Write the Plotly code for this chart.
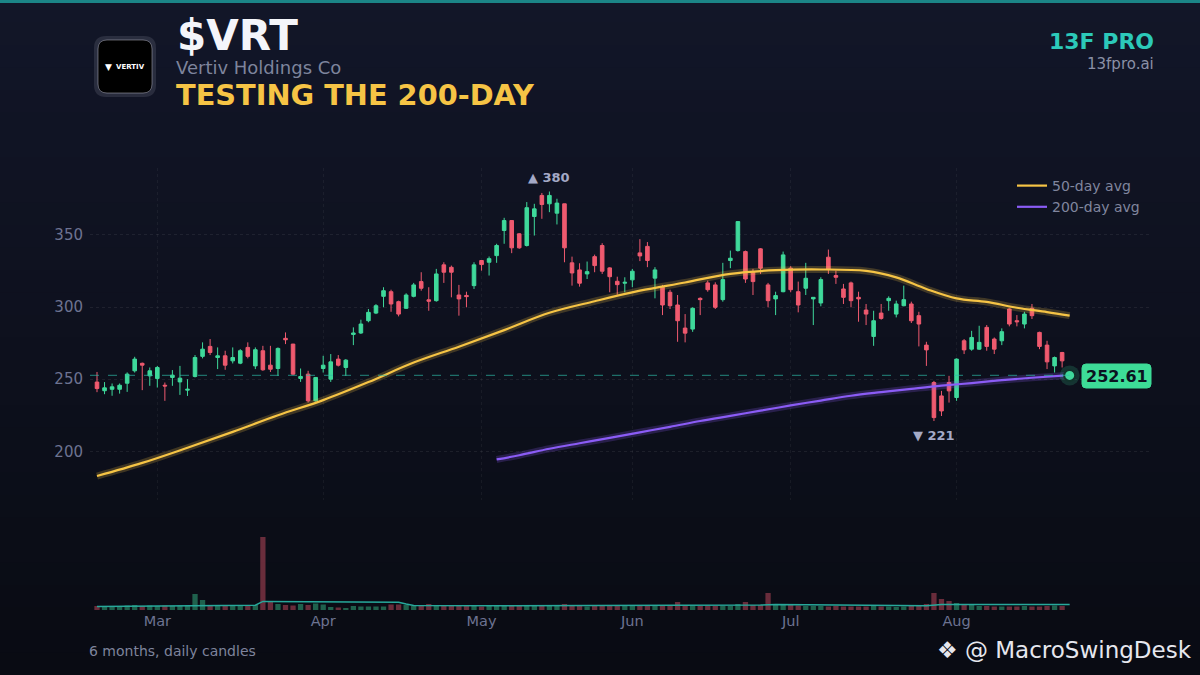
import plotly.graph_objects as go

# daily candles (one entry per trading day, ~6 months)
opens = [248.0, 242.0, 243.0, 243.0, 247.2, 255.8, 261.0, 252.3, 250.5, 245.8,
         251.2, 248.1, 242.4, 251.9, 265.8, 272.7, 265.0, 266.2, 262.7, 261.1,
         272.0, 259.2, 269.7, 259.7, 257.4, 278.3, 274.3, 250.5, 253.5, 235.0,
         257.4, 250.0, 263.9, 258.1, 281.0, 282.0, 290.5, 295.8, 307.4, 310.6,
         303.7, 299.1, 307.4, 317.6, 305.0, 304.4, 329.2, 327.5, 308.3, 308.0,
         314.8, 332.2, 331.0, 335.6, 353.0, 359.9, 350.7, 342.6, 362.7, 377.3,
         371.5, 365.0, 371.5, 330.6, 325.7, 322.9, 334.9, 342.6, 327.1, 317.8,
         316.5, 318.8, 337.5, 342.0, 320.0, 313.7, 310.2, 301.4, 285.4, 284.7,
         306.0, 316.7, 315.3, 305.1, 332.2, 339.1, 338.4, 324.5, 340.3, 315.3,
         305.6, 310.6, 326.9, 310.6, 313.0, 305.6, 302.8, 334.5, 321.8, 312.5,
         316.7, 306.7, 297.9, 279.6, 295.8, 304.4, 295.1, 300.9, 302.1, 294.0,
         273.6, 247.7, 238.4, 247.7, 237.3, 276.6, 270.8, 270.8, 285.9, 277.8,
         276.6, 298.6, 290.5, 288.2, 299.1, 282.4, 273.6, 259.2, 268.5]
highs = [255.0, 248.0, 247.0, 247.0, 254.7, 265.5, 261.5, 258.1, 259.2, 247.7,
         256.3, 259.2, 250.0, 266.7, 275.5, 277.8, 272.0, 269.7, 272.0, 270.8,
         275.5, 272.0, 273.1, 273.1, 272.0, 282.4, 274.5, 257.4, 255.8, 251.5,
         266.2, 267.4, 266.7, 263.9, 285.9, 291.2, 298.6, 302.0, 313.7, 312.0,
         304.4, 309.5, 316.7, 324.1, 313.7, 326.4, 331.0, 328.7, 315.3, 310.6,
         331.0, 332.5, 335.0, 343.8, 361.8, 360.0, 351.2, 372.7, 371.5, 379.0,
         380.0, 375.0, 371.5, 334.9, 330.3, 331.5, 336.3, 344.2, 327.6, 321.0,
         320.6, 326.4, 347.0, 345.0, 327.6, 315.3, 312.0, 308.3, 295.1, 299.8,
         306.7, 318.3, 317.1, 330.6, 339.1, 359.3, 339.1, 326.4, 340.8, 316.7,
         310.6, 338.4, 328.3, 317.6, 330.6, 306.8, 320.6, 339.8, 325.2, 316.0,
         317.6, 310.6, 302.1, 297.4, 302.1, 307.4, 304.4, 314.8, 303.7, 296.7,
         275.9, 248.8, 241.9, 252.3, 264.4, 277.8, 283.5, 287.0, 287.5, 278.9,
         285.2, 299.1, 294.4, 296.7, 302.1, 282.9, 276.6, 265.7, 268.9]
lows = [241.0, 239.6, 238.5, 240.0, 241.2, 254.6, 242.4, 245.4, 244.2, 235.0,
        245.4, 239.1, 238.4, 251.2, 264.4, 266.7, 257.0, 256.5, 260.9, 260.4,
        264.4, 257.0, 255.8, 255.0, 252.3, 274.3, 252.8, 248.1, 233.8, 234.5,
        254.6, 248.1, 258.8, 252.3, 273.6, 281.3, 289.4, 295.1, 299.8, 296.7,
        293.5, 298.6, 306.7, 311.3, 297.4, 303.7, 316.7, 306.7, 294.0, 299.8,
        312.5, 325.2, 321.8, 330.6, 343.8, 337.3, 340.3, 341.9, 349.5, 361.1,
        365.7, 357.2, 331.0, 314.8, 314.1, 319.4, 324.1, 322.9, 310.2, 308.5,
        310.2, 313.7, 331.8, 327.6, 306.0, 294.4, 298.6, 275.9, 275.5, 282.8,
        294.4, 310.6, 298.6, 303.7, 326.9, 338.4, 316.7, 308.3, 322.9, 299.8,
        294.4, 310.2, 310.2, 296.3, 308.3, 287.5, 300.5, 322.9, 316.0, 302.1,
        299.8, 289.8, 287.5, 273.1, 291.2, 297.4, 292.8, 300.5, 288.9, 272.7,
        259.2, 221.0, 224.5, 233.8, 235.0, 267.4, 269.7, 270.3, 269.7, 267.4,
        273.6, 286.6, 286.6, 285.2, 291.7, 270.8, 257.0, 254.6, 258.1]
closes = [243.5, 244.0, 244.7, 245.8, 253.5, 263.9, 259.7, 255.8, 258.1, 245.3,
          252.8, 250.7, 243.0, 265.0, 270.8, 268.5, 266.2, 259.7, 265.0, 269.7,
          265.8, 270.4, 256.5, 256.9, 271.3, 277.3, 253.5, 251.9, 235.0, 251.2,
          259.7, 262.0, 259.7, 263.2, 282.0, 288.2, 296.3, 300.9, 311.3, 302.1,
          295.1, 308.3, 315.3, 313.0, 304.0, 322.9, 324.1, 324.1, 305.6, 307.2,
          329.2, 329.4, 333.5, 342.6, 359.9, 341.0, 341.0, 368.8, 368.0, 371.0,
          377.3, 372.0, 341.0, 323.6, 316.5, 324.5, 328.7, 324.8, 321.0, 315.5,
          317.1, 324.8, 335.4, 332.2, 325.7, 301.4, 300.9, 290.5, 281.9, 299.1,
          305.1, 312.0, 299.8, 319.0, 333.8, 359.2, 319.4, 317.6, 326.9, 304.4,
          307.9, 336.1, 312.0, 301.4, 319.9, 306.7, 319.0, 325.9, 320.6, 306.7,
          304.4, 305.6, 295.1, 290.5, 292.1, 306.0, 302.1, 305.1, 290.5, 288.2,
          270.3, 223.4, 228.0, 241.9, 263.9, 270.3, 278.9, 275.5, 272.7, 270.8,
          282.9, 288.2, 289.8, 295.1, 294.0, 272.7, 262.0, 265.0, 262.7]
volumes = [4, 4, 3.5, 4, 4.5, 5, 4, 4.5, 4, 4.5,
           4, 4.5, 5, 16, 10, 5, 4.5, 4, 4.5, 4,
           4.5, 5, 73, 8, 6, 5, 4.5, 6, 5, 6.5,
           5.5, 3, 2.5, 2, 4, 3.5, 3.5, 3.5, 3.5, 5.5,
           5.5, 5, 4, 4, 6, 4, 4, 4.5, 4, 4,
           4, 3.5, 4, 4, 4, 4, 4.5, 4, 5, 4,
           4, 4.5, 6, 4.5, 4, 3.5, 4, 4, 5, 4,
           4, 4, 4.5, 4, 4, 4, 5, 8, 5, 4,
           4, 4.5, 4, 4, 4, 6, 8, 5, 5, 17,
           6, 5, 5, 4.5, 4, 4, 4, 3.5, 4, 3.5,
           3.5, 3.5, 3.5, 4, 3.5, 3.5, 3, 3.5, 4, 4,
           6, 17, 11, 9, 7, 6, 5, 4, 4, 3.5,
           3.5, 3.5, 3.5, 4, 3.5, 3.5, 4, 4.5, 4]

# moving averages as drawn on the chart (day index, value)
ma50_idx = [0, 6, 12, 18, 24, 30, 36, 42, 48, 54, 60, 66, 72, 78, 84, 90, 96,
            102, 106, 110, 114, 118, 122, 126, 129]
ma50 = [182.9, 192.0, 202.5, 213.5, 225.0, 235.5, 248.0, 261.5, 272.5, 284.0,
        296.0, 304.0, 311.3, 317.0, 323.0, 325.5, 326.0, 325.0, 320.5, 312.5,
        306.0, 303.5, 299.5, 296.5, 294.0]
ma200_idx = [53, 56, 60, 64, 68, 72, 76, 80, 84, 88, 92, 96, 100, 104, 108,
             112, 116, 120, 124, 129]
ma200 = [194.4, 197.3, 201.8, 205.6, 209.3, 213.2, 217.0, 221.0, 224.6, 228.2,
         231.8, 235.2, 238.5, 241.0, 243.3, 245.5, 247.3, 249.3, 251.0, 252.8]
vol_ma_idx = [0, 12, 13, 21, 22, 30, 40, 41, 42, 55, 70, 85, 88, 90, 100, 105,
              108, 110, 112, 125, 129]
vol_ma = [3.5, 4.0, 4.6, 4.8, 8.6, 8.4, 7.8, 6.0, 4.4, 4.2, 4.3, 4.6, 5.0, 5.4,
          4.6, 4.2, 3.8, 4.3, 5.4, 5.6, 5.5]

months = ["Mar", "Apr", "May", "Jun", "Jul", "Aug"]
month_pos = [8, 30, 51, 71, 92, 114]

last_price = 252.61
days = list(range(len(closes)))
last_day = len(closes)

GREEN = "#3fd99b"
RED = "#ef5a6f"
YELLOW = "#f6c445"
PURPLE = "#8b5cf6"
MUTED = "#80869e"

# plot area in pixels (1200x675 page)
L, R, T, B = 90, 1152, 168, 610
W, H = R - L, B - T


def px(x):
    return (x - L) / W


def py(y):
    return (B - y) / H


def round_rect(x0, y0, x1, y1, r):
    # rounded rectangle path in paper coords, from pixel box
    a, b, c, d = px(x0), py(y0), px(x1), py(y1)
    rx, ry = r / W, r / H
    return (f"M {a+rx},{b} L {c-rx},{b} Q {c},{b} {c},{b-ry} L {c},{d+ry} "
            f"Q {c},{d} {c-rx},{d} L {a+rx},{d} Q {a},{d} {a},{d+ry} "
            f"L {a},{b-ry} Q {a},{b} {a+rx},{b} Z")


fig = go.Figure()

fig.add_trace(go.Candlestick(
    x=days, open=opens, high=highs, low=lows, close=closes,
    increasing=dict(line=dict(color=GREEN, width=1), fillcolor=GREEN),
    decreasing=dict(line=dict(color=RED, width=1), fillcolor=RED),
    whiskerwidth=0, showlegend=False, xaxis="x", yaxis="y"))

# moving averages with a soft glow underneath
fig.add_trace(go.Scatter(x=ma50_idx, y=ma50, mode="lines", line_shape="spline",
                         line=dict(color="rgba(246,196,69,0.22)", width=7),
                         showlegend=False, hoverinfo="skip"))
fig.add_trace(go.Scatter(x=ma50_idx, y=ma50, mode="lines", line_shape="spline",
                         line=dict(color=YELLOW, width=2.2), name="50-day avg",
                         legendgroup="a"))
fig.add_trace(go.Scatter(x=ma200_idx, y=ma200, mode="lines", line_shape="spline",
                         line=dict(color="rgba(139,92,246,0.22)", width=7),
                         showlegend=False, hoverinfo="skip"))
fig.add_trace(go.Scatter(x=ma200_idx, y=ma200, mode="lines", line_shape="spline",
                         line=dict(color=PURPLE, width=2.2), name="200-day avg",
                         legendgroup="b"))

# last price dot
fig.add_trace(go.Scatter(x=[last_day], y=[last_price], mode="markers",
                         marker=dict(size=20, color="rgba(63,217,155,0.18)"),
                         showlegend=False, hoverinfo="skip"))
fig.add_trace(go.Scatter(x=[last_day], y=[last_price], mode="markers",
                         marker=dict(size=11, color=GREEN,
                                     line=dict(color="#12342c", width=2)),
                         showlegend=False))

# volume panel
vol_colors = ["rgba(63,217,155,0.42)" if c >= o else "rgba(239,90,111,0.42)"
              for o, c in zip(opens, closes)]
fig.add_trace(go.Bar(x=days, y=volumes, marker_color=vol_colors,
                     marker_line_width=0, showlegend=False,
                     xaxis="x2", yaxis="y2"))
fig.add_trace(go.Scatter(x=vol_ma_idx, y=vol_ma, mode="lines",
                         line=dict(color="#27a99b", width=1.5),
                         showlegend=False, xaxis="x2", yaxis="y2"))

xrange = [-(97 - L) / 7.54, (R - 97) / 7.54]
grid = "rgba(255,255,255,0.07)"

fig.update_layout(
    width=1200, height=675,
    margin=dict(l=L, r=1200 - R, t=T, b=675 - B),
    paper_bgcolor="#0d1020", plot_bgcolor="rgba(0,0,0,0)",
    font=dict(family="DejaVu Sans", color=MUTED),
    bargap=0.3, boxgap=0.32,
    xaxis=dict(domain=[0, 1], range=xrange, anchor="y", showticklabels=False,
               tickvals=month_pos, showgrid=True, gridcolor="rgba(255,255,255,0.05)",
               griddash="dot", zeroline=False, rangeslider=dict(visible=False)),
    yaxis=dict(domain=[py(500), 1], range=[166.3, 396.3], tickvals=[200, 250, 300, 350],
               showgrid=True, gridcolor=grid, griddash="dot", zeroline=False,
               ticklabelstandoff=6, tickfont=dict(size=15, color="#6d7391")),
    xaxis2=dict(domain=[0, 1], range=xrange, anchor="y2", matches="x",
                tickvals=month_pos, ticktext=months, showgrid=False, zeroline=False,
                tickfont=dict(size=14.5, color="#6d7391")),
    yaxis2=dict(domain=[0, py(530)], range=[0, 80], visible=False),
    legend=dict(x=px(1012), y=py(170), xanchor="left", yanchor="top",
                bgcolor="rgba(0,0,0,0)", font=dict(size=14, color=MUTED),
                tracegroupgap=0),
)

# background: soft vertical gradient + teal strip on top
top_c, bot_c = (18, 22, 40), (9, 11, 19)
bands = 30
for i in range(bands):
    t = i / (bands - 1)
    col = tuple(round(top_c[k] + (bot_c[k] - top_c[k]) * t) for k in range(3))
    fig.add_shape(type="rect", xref="paper", yref="paper", layer="below",
                  x0=px(0), x1=px(1200), y0=py(675 * (i + 1) / bands + 1),
                  y1=py(675 * i / bands), fillcolor="rgb(%d,%d,%d)" % col,
                  line_width=0)
fig.add_shape(type="rect", xref="paper", yref="paper", x0=px(0), x1=px(1200),
              y0=py(3), y1=py(0), fillcolor="#1b8587", line_width=0)

# current price dashed line and tag
fig.add_shape(type="line", xref="x", yref="y", x0=xrange[0], x1=last_day,
              y0=last_price, y1=last_price,
              line=dict(color="rgba(45,190,170,0.55)", width=1.2, dash="dash"))
fig.add_shape(type="path", xref="paper", yref="paper",
              path=round_rect(1082, 364, 1151, 388, 4),
              fillcolor="#3ddc97", line=dict(color="#3ddc97", width=1))


def label(x, y, text, size, color, anchor="left"):
    fig.add_annotation(x=px(x), y=py(y), xref="paper", yref="paper", text=text,
                       showarrow=False, xanchor=anchor, yanchor="middle",
                       font=dict(size=size, color=color, family="DejaVu Sans"))


label(1116.5, 376, "<b>252.61</b>", 16, "#0b1220", "center")

# logo tile
fig.add_shape(type="path", xref="paper", yref="paper",
              path=round_rect(96, 38, 154, 95, 10), fillcolor="rgba(0,0,0,0)",
              line=dict(color="rgba(220,220,235,0.12)", width=4))
fig.add_shape(type="path", xref="paper", yref="paper",
              path=round_rect(98, 40, 152, 93, 9), fillcolor="#000000",
              line=dict(color="rgba(200,200,215,0.45)", width=1))
label(108, 67, "▼", 9, "white", "center")
label(130, 67, "<b>VERTIV</b>", 7, "white", "center")

# header texts
label(175, 36, "<b>$VRT</b>", 42, "#f4f5fa")
label(174, 68, "Vertiv Holdings Co", 18, "#7e849c")
label(174, 95, "<b>TESTING THE 200-DAY</b>", 28.8, YELLOW)
label(1156, 42, "<b>13F PRO</b>", 22, "#2cc9b9", "right")
label(1156, 64, "13fpro.ai", 15, "#8a90a6", "right")
label(87, 651, "6 months, daily candles", 14, "#7e849c")
label(1194, 650, "❖ @ MacroSwingDesk", 23, "#e6e7ee", "right")

# high / low markers
peak_i = highs.index(max(highs))
low_i = lows.index(min(lows))
fig.add_annotation(x=peak_i, y=highs[peak_i], text="<b>▲ %d</b>" % round(highs[peak_i]),
                   showarrow=False, yshift=14, font=dict(size=13, color="#a4a9c6"))
fig.add_annotation(x=low_i, y=lows[low_i], text="<b>▼ %d</b>" % round(lows[low_i]),
                   showarrow=False, yshift=-14, font=dict(size=13, color="#a4a9c6"))

fig.write_html("out.html", config={"displayModeBar": False},
               post_script="document.body.style.margin='0px';")
